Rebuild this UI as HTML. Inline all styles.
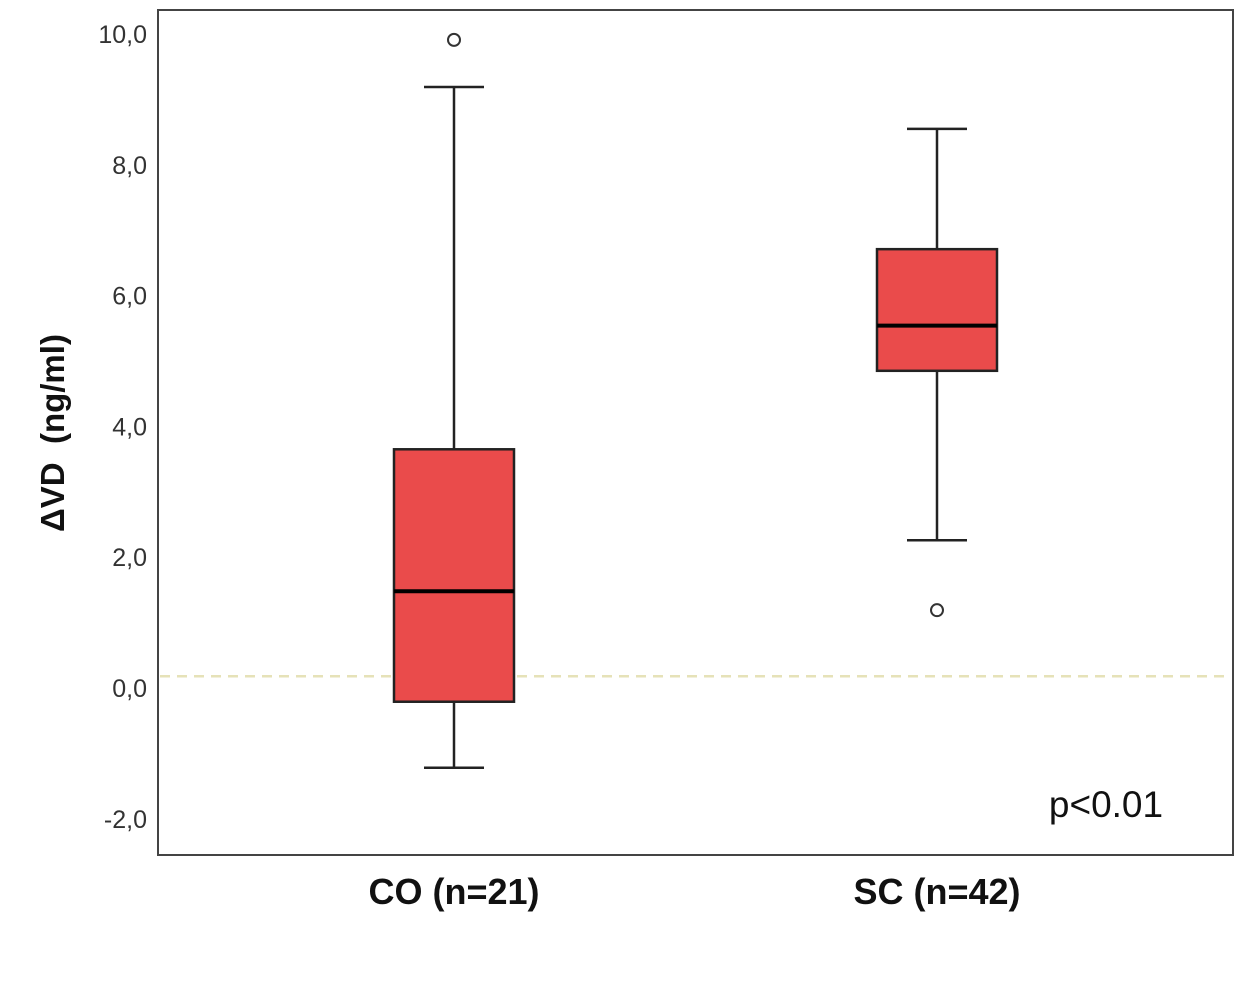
<!DOCTYPE html>
<html><head><meta charset="utf-8"><style>
body{margin:0;background:#fff;}
svg{display:block;font-family:"Liberation Sans",sans-serif;}
</style></head><body>
<svg id="chart" width="1248" height="1000">
<rect x="158" y="10" width="1075" height="845" fill="#fff" stroke="#444" stroke-width="2"/>
<text transform="translate(64,433) rotate(-90)" text-anchor="middle" font-size="33" font-weight="bold" fill="#111" style="white-space:pre">ΔVD  (ng/ml)</text>
<text x="1106" y="817" text-anchor="middle" font-size="37" fill="#111">p&lt;0.01</text>
</svg>
<script>
const categories=["CO (n=21)","SC (n=42)"];
const whiskerLow=[-1.22,2.26];
const q1=[-0.21,4.85];
const median=[1.48,5.54];
const q3=[3.65,6.71];
const whiskerHigh=[9.19,8.55];
const outliers=[[9.91],[1.19]];
const yTicks=[10,8,6,4,2,0,-2];
const yTickLabels=["10,0","8,0","6,0","4,0","2,0","0,0","-2,0"];
const refLine=0.18;

const svg=document.getElementById('chart');
const NS="http://www.w3.org/2000/svg";
const y=v=>688-65.4*v;
const x=i=>454+483*i;
function mk(t,a){const e=document.createElementNS(NS,t);for(const k in a)e.setAttribute(k,a[k]);svg.appendChild(e);return e;}

yTicks.forEach((t,i)=>{
  const e=mk('text',{x:147,y:y(t)+9,'text-anchor':'end','font-size':25,fill:'#333'});
  e.textContent=yTickLabels[i];
  
  
});
const rl=mk('line',{x1:160,x2:1231,y1:y(refLine),y2:y(refLine),stroke:'#e6e2b8','stroke-width':2.5,'stroke-dasharray':'10,7'});



categories.forEach((c,i)=>{
  const cx=x(i),hw=60;
  const w1=mk('line',{x1:cx,x2:cx,y1:y(whiskerHigh[i]),y2:y(q3[i]),stroke:'#222','stroke-width':2.5});
  
  
  const w2=mk('line',{x1:cx,x2:cx,y1:y(q1[i]),y2:y(whiskerLow[i]),stroke:'#222','stroke-width':2.5});
  
  
  [whiskerHigh[i],whiskerLow[i]].forEach(v=>{
    const cap=mk('line',{x1:cx-30,x2:cx+30,y1:y(v),y2:y(v),stroke:'#222','stroke-width':2.5});
    
    
  });
  const b=mk('rect',{x:cx-hw,y:y(q3[i]),width:2*hw,height:y(q1[i])-y(q3[i]),fill:'#ea4b4b',stroke:'#222','stroke-width':2.5});
  
  
  const m=mk('line',{x1:cx-hw,x2:cx+hw,y1:y(median[i]),y2:y(median[i]),stroke:'#000','stroke-width':4});
  
  
  outliers[i].forEach(v=>{
    const o=mk('circle',{cx:cx,cy:y(v),r:6,fill:'#fff',stroke:'#333','stroke-width':2});
    
    
  });
  const l=mk('text',{x:cx,y:904,'text-anchor':'middle','font-size':36,'font-weight':'bold',fill:'#111'});
  l.textContent=c;
  
  
});
</script>
</body></html>
